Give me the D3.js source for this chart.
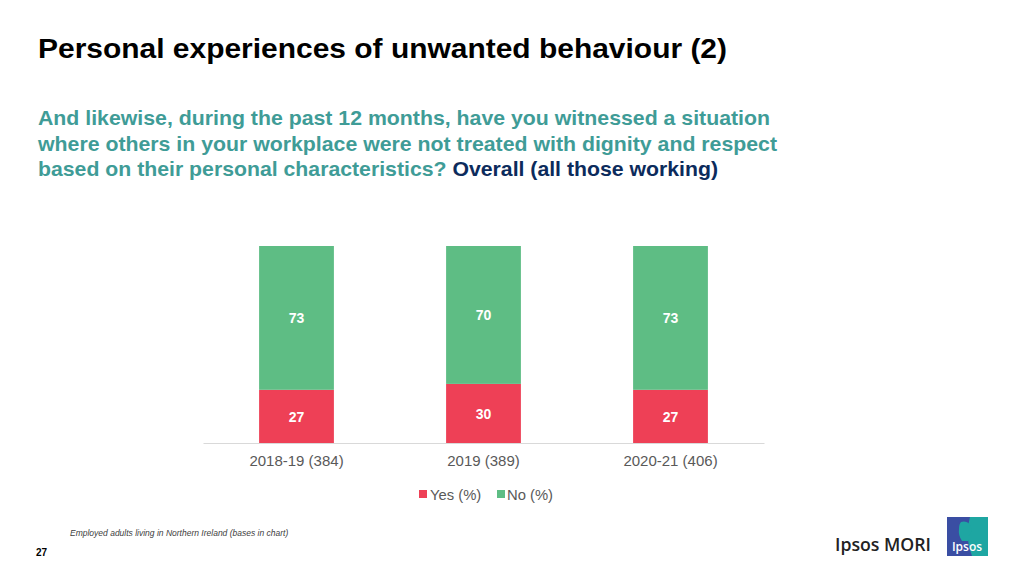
<!DOCTYPE html>
<html><head><meta charset="utf-8">
<script src="https://cdn.jsdelivr.net/npm/d3@7"></script>
<style>body{margin:0;background:#fff}svg{display:block}</style>
</head><body>
<svg id="c" width="1024" height="576"></svg>
<script>
const categories = ["2018-19 (384)", "2019 (389)", "2020-21 (406)"];
const seriesNames = ["Yes (%)", "No (%)"];
const yesValues = [27, 30, 27];
const noValues = [73, 70, 73];
const colors = ["#EE4056", "#5EBD84"];

const svg = d3.select("#c");
const F = "'Liberation Sans', Arial, Helvetica, sans-serif";

svg.append("text").attr("x", 38).attr("y", 58).attr("font-family", F)
  .attr("font-weight", "bold").attr("font-size", 27).attr("fill", "#000")
  .attr("textLength", 689).attr("lengthAdjust", "spacingAndGlyphs")
  .text("Personal experiences of unwanted behaviour (2)");

const teal = "#3F9C97", navy = "#0C2B5C";
const sub = [
  {y: 125, w: 732, parts: [["And likewise, during the past 12 months, have you witnessed a situation", teal]]},
  {y: 150.5, w: 739, parts: [["where others in your workplace were not treated with dignity and respect", teal]]},
  {y: 176, w: 680, parts: [["based on their personal characteristics? ", teal], ["Overall (all those working)", navy]]}
];
sub.forEach(l => {
  const t = svg.append("text").attr("x", 38).attr("y", l.y).attr("font-family", F)
    .attr("font-weight", "bold").attr("font-size", 20.5)
    .attr("textLength", l.w).attr("lengthAdjust", "spacingAndGlyphs");
  l.parts.forEach(p => t.append("tspan").attr("fill", p[1]).text(p[0]));
});

// chart
const x = d3.scaleBand().domain(categories).range([203, 764]).paddingInner(0.6).paddingOuter(0.3);
const y = d3.scaleLinear().domain([0, 100]).range([443, 246]);

const data = categories.map((c, i) => ({cat: c, Yes: yesValues[i], No: noValues[i]}));
const stack = d3.stack().keys(["Yes", "No"])(data);

const g = svg.append("g");
stack.forEach((s, si) => {
  g.selectAll(null).data(s).enter().append("rect")
    .attr("x", d => x(d.data.cat)).attr("width", x.bandwidth())
    .attr("y", d => y(d[1])).attr("height", d => y(d[0]) - y(d[1]))
    .attr("fill", colors[si]);
  g.selectAll(null).data(s).enter().append("text")
    .attr("x", d => x(d.data.cat) + x.bandwidth() / 2)
    .attr("y", d => (y(d[0]) + y(d[1])) / 2 + 5.5)
    .attr("text-anchor", "middle").attr("font-family", F).attr("font-weight", "bold")
    .attr("font-size", 14).attr("fill", "#fff")
    .text(d => d[1] - d[0]);
});

const ax = svg.append("g").attr("transform", "translate(0,443)")
  .call(d3.axisBottom(x).tickSize(0).tickPadding(12));
ax.select(".domain").attr("stroke", "#D9D9D9").attr("stroke-width", 1);
ax.selectAll("text").attr("font-family", F).attr("font-size", 15).attr("fill", "#595959");

// legend
const leg = [{x: 419, tx: 430}, {x: 497, tx: 507}];
seriesNames.forEach((n, i) => {
  svg.append("rect").attr("x", leg[i].x).attr("y", 490).attr("width", 8).attr("height", 8).attr("fill", colors[i]);
  svg.append("text").attr("x", leg[i].tx).attr("y", 500).attr("font-family", F)
    .attr("font-size", 14.8).attr("fill", "#595959").text(n);
});

// footnote
svg.append("text").attr("x", 70).attr("y", 536).attr("font-family", F).attr("font-style", "italic")
  .attr("font-size", 8.5).attr("fill", "#404040").text("Employed adults living in Northern Ireland (bases in chart)");
svg.append("text").attr("x", 36).attr("y", 556).attr("font-family", F).attr("font-weight", "bold")
  .attr("font-size", 10).attr("fill", "#000").text("27");

// logo
svg.append("text").attr("x", 835).attr("y", 551).attr("font-family", "'Open Sans', " + F)
  .attr("font-weight", "600").attr("font-size", 18).attr("fill", "#222")
  .attr("textLength", 96).attr("lengthAdjust", "spacingAndGlyphs").text("Ipsos MORI");
const lg = svg.append("g");
lg.append("rect").attr("x", 947).attr("y", 517).attr("width", 41).attr("height", 39).attr("fill", "#1EA6A2");
lg.append("path").attr("d", "M947,517 L970,517 Q964,536 972,556 L947,556 Z").attr("fill", "#3A4EA3");
lg.append("path").attr("d", "M961,522 q8,-2 10,6 q1,6 -3,8 l0,5 l-6,0 q-4,-6 -3,-12 q0,-5 2,-7 Z").attr("fill", "#1EA6A2");
lg.append("text").attr("x", 967).attr("y", 551).attr("text-anchor", "middle").attr("font-family", "'Open Sans', " + F)
  .attr("font-weight", "600").attr("font-size", 12).attr("fill", "#fff").text("Ipsos");
</script>
</body></html>
